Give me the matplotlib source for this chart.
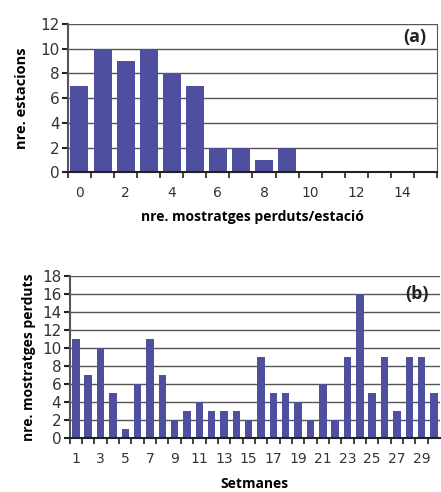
import numpy as np
import matplotlib.pyplot as plt

# (a) histogram: missed samples per station
cats_a = list(range(16))
vals_a = [7, 10, 9, 10, 8, 7, 2, 2, 1, 2, 0, 0, 0, 0, 0, 0]
xticklabels_a = ['0', '2', '4', '6', '8', '10', '12', '14']

# (b) missed samples per week
weeks = list(range(1, 31))
vals_b = [11, 7, 10, 5, 1, 6, 11, 7, 2, 3, 4, 3, 3, 3, 2,
          9, 5, 5, 4, 2, 6, 2, 9, 16, 5, 9, 3, 9, 9, 5]
xticklabels_b = [str(w) for w in range(1, 30, 2)]

bar_color = '#4f4f9f'
grid_color = '#555555'
plt.rcParams['font.family'] = ['DejaVu Sans']
label_font = ['Open Sans', 'DejaVu Sans']

fig = plt.figure(figsize=(4.41, 4.92), dpi=100)


def style(ax, ymax, ystep):
    ax.set_ylim(0, ymax)
    ax.set_yticks(np.arange(0, ymax + 1, ystep))
    ax.yaxis.grid(True, color=grid_color, linewidth=1)
    ax.set_axisbelow(True)
    for s in ['top', 'bottom', 'right', 'left']:
        ax.spines[s].set_visible(False)
    ax.spines['left'].set_visible(True)
    ax.spines['left'].set_color(grid_color)
    ax.spines['left'].set_linewidth(1.5)
    ax.spines['bottom'].set_visible(True)
    ax.spines['bottom'].set_color('#222222')
    ax.spines['bottom'].set_linewidth(1.5)
    ax.tick_params(axis='y', length=4, width=1.5, color='#222222',
                   labelsize=11, labelcolor='#333333', pad=2)
    ax.tick_params(axis='x', which='major', length=0, labelsize=10,
                   labelcolor='#333333', pad=10)
    ax.tick_params(axis='x', which='minor', length=4, width=1.2,
                   color='#222222', direction='out')


# panel (a)
ax1 = fig.add_axes([0.154, 0.650, 0.837, 0.301])
ax1.bar(cats_a, vals_a, width=0.78, color=bar_color)
ax1.set_xlim(-0.5, len(cats_a) - 0.5)
style(ax1, 12, 2)
ax1.set_xticks(cats_a[::2])
ax1.set_xticklabels(xticklabels_a)
ax1.set_xticks(np.arange(-0.5, len(cats_a)), minor=True)
ax1.spines['right'].set_visible(True)
ax1.spines['right'].set_color(grid_color)
ax1.set_ylabel('nre. estacions', fontsize=10.5, fontweight='bold',
               labelpad=8, family=label_font)
ax1.set_xlabel('nre. mostratges perduts/estació', fontsize=10,
               fontweight='bold', labelpad=7, family=label_font)
ax1.text(0.97, 0.91, '(a)', transform=ax1.transAxes, ha='right', va='center',
         fontsize=13, fontweight='bold', color='#222222', family=label_font)

# panel (b)
ax2 = fig.add_axes([0.158, 0.110, 0.840, 0.329])
ax2.bar(weeks, vals_b, width=0.6, color=bar_color)
ax2.set_xlim(0.5, len(weeks) + 0.5)
style(ax2, 18, 2)
ax2.set_xticks(weeks[::2])
ax2.set_xticklabels(xticklabels_b)
ax2.set_xticks(np.arange(0.5, len(weeks) + 0.5), minor=True)
ax2.set_ylabel('nre. mostratges perduts', fontsize=10, fontweight='bold',
               labelpad=4, family=label_font)
ax2.set_xlabel('Setmanes', fontsize=10, fontweight='bold', labelpad=8,
               family=label_font)
ax2.text(0.97, 0.89, '(b)', transform=ax2.transAxes, ha='right', va='center',
         fontsize=13, fontweight='bold', color='#222222', family=label_font)

fig.savefig('out.png', dpi=100)
